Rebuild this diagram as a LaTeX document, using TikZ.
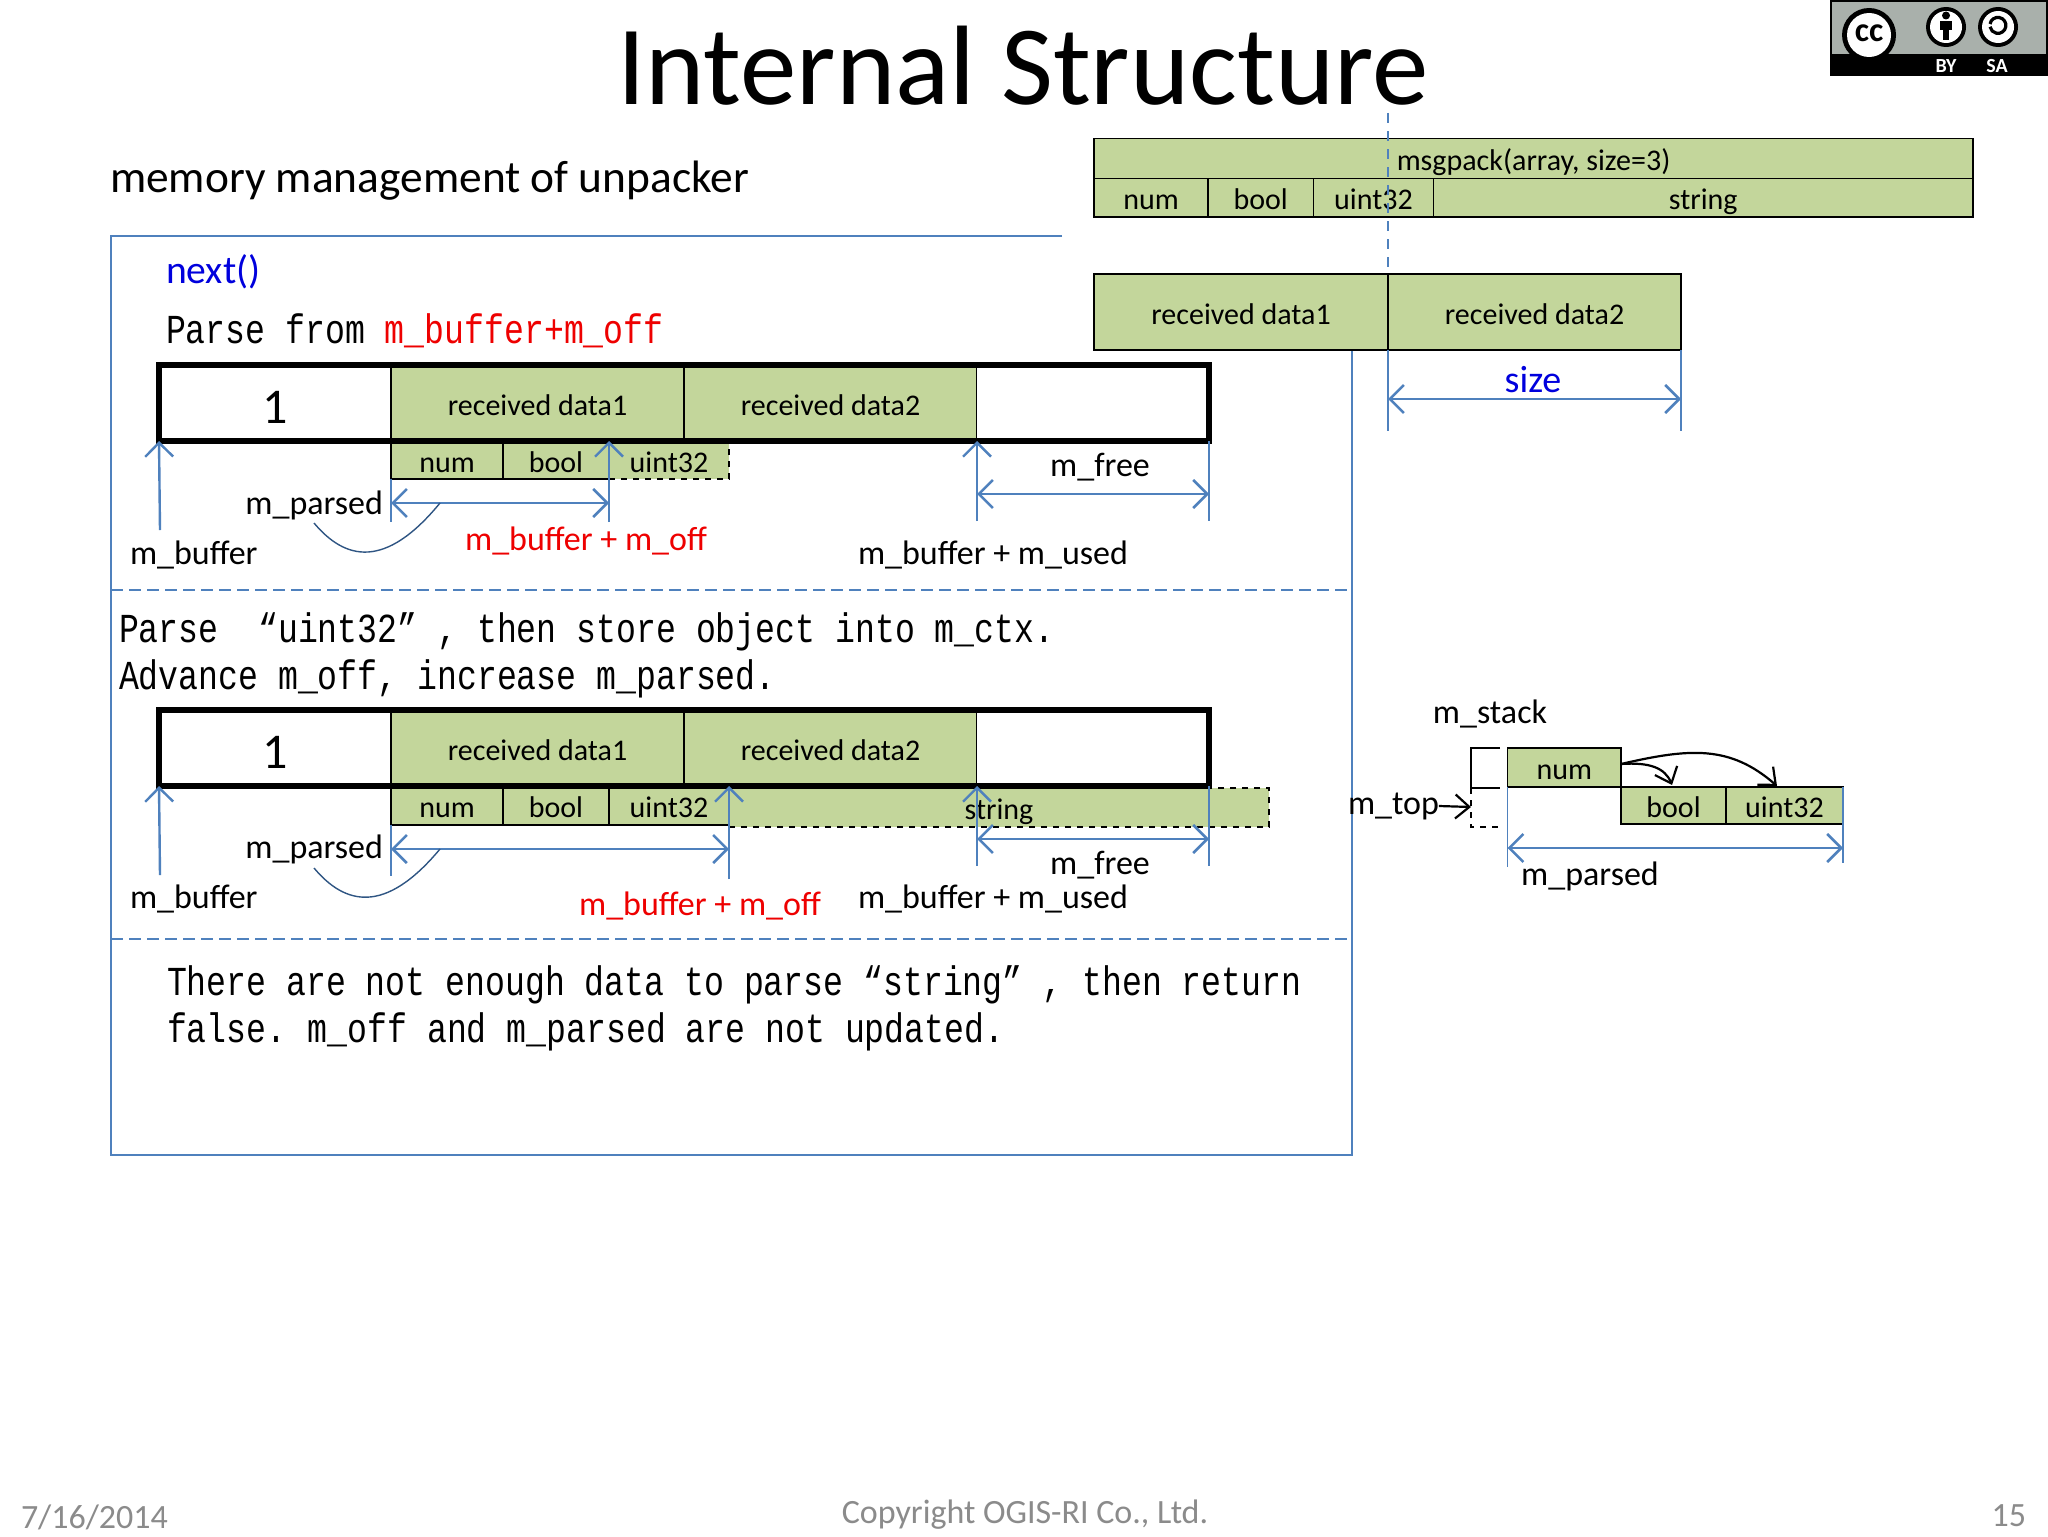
\documentclass[tikz,border=0pt]{standalone}
\usepackage{fontspec}
\usetikzlibrary{arrows.meta}
\setmainfont{Carlito}
\newfontfamily\gothic[FakeStretch=0.805]{Liberation Mono}
\definecolor{cellgreen}{HTML}{C3D69B}
\definecolor{linkblue}{HTML}{4F81BD}
\definecolor{calloutblue}{HTML}{2F5583}
\definecolor{footgrey}{HTML}{8B8B8B}
\definecolor{redtxt}{HTML}{EE0000}
\definecolor{bluetxt}{HTML}{0000DD}
\definecolor{badgegrey}{HTML}{A9B0AB}
\tikzset{
  x=0.5pt,y=-0.5pt,
  barb/.style={line width=1.2pt,draw=linkblue,arrows={-Straight Barb[length=7pt,width=14pt,line width=1.2pt]}},
  dimarrow/.style={line width=1.4pt,draw=linkblue,arrows={Straight Barb[length=7pt,width=14pt,line width=1.3pt]-Straight Barb[length=7pt,width=14pt,line width=1.3pt]}},
  tick/.style={line width=0.7pt,draw=linkblue},
  lbl/.style={inner sep=0pt,outer sep=0pt,font=\fontsize{17}{17}\selectfont},
  mono/.style={inner sep=0pt,outer sep=0pt,anchor=west,font=\gothic\fontsize{20.6}{20.6}\selectfont},
  blackarr/.style={line width=1.1pt,draw=black,arrows={-Straight Barb[length=7pt,width=12pt,line width=1.1pt]}},
  bigbox/.style={anchor=north west,draw=black,line width=2.8pt,minimum width=525pt,minimum height=38pt,inner sep=0pt,outer sep=0pt},
}
\newcommand{\cell}[7][]{\node[anchor=north west,inner sep=0pt,outer sep=0pt,fill=cellgreen,draw=black,line width=0.9pt,font=\fontsize{15}{15}\selectfont,minimum width={(#5-#3)*0.5pt},minimum height={(#6-#4)*0.5pt},#1] (#2) at (#3,#4) {\rule{0pt}{1em}\rule[-.2em]{0pt}{.2em}#7};}
\newcommand{\lab}[5][]{\node[lbl,#1] (#2) at (#3,#4) {#5};}
\begin{document}
\begin{tikzpicture}
\useasboundingbox (0,0) rectangle (2048,1536);
\fill[white] (0,0) rectangle (2048,1536);
% titles
\lab[font=\fontsize{56.5}{56.5}\selectfont]{title}{1023}{66}{Internal Structure}
\lab[anchor=west,font=\fontsize{22.7}{22.7}\selectfont]{sub}{110}{181}{memory management of unpacker}
% outer frame
\coordinate (fa) at (1062,236); \coordinate (fb) at (111,236); \coordinate (fc) at (111,1155);
\coordinate (fd) at (1352,1155); \coordinate (fe) at (1352,350);
\draw[linkblue,line width=0.6pt] (fa) -- (fb) -- (fc) -- (fd) -- (fe);
\coordinate (s1a) at (111,590); \coordinate (s1b) at (1352,590);
\coordinate (s2a) at (111,939); \coordinate (s2b) at (1352,939);
\draw[linkblue,line width=0.8pt,dash pattern=on 6pt off 3pt] (s1a) -- (s1b);
\draw[linkblue,line width=0.8pt,dash pattern=on 6pt off 3pt] (s2a) -- (s2b);
% top right
\cell{mp}{1094}{138.5}{1973}{178.5}{msgpack(array, size=3)}
\cell{tn}{1094}{178.5}{1208}{217}{num}
\cell{tb}{1208}{178.5}{1313.5}{217}{bool}
\cell{tu}{1313.5}{178.5}{1433.5}{217}{uint32}
\cell{ts}{1433.5}{178.5}{1973}{217}{string}
\cell{rd1}{1094}{274}{1388}{350}{received data1}
\cell{rd2}{1388}{274}{1681}{350}{received data2}
\coordinate (vtop) at (1388,113);
\draw[linkblue,line width=0.8pt,dash pattern=on 5pt off 4pt] (vtop) -- (rd1.north east);
\coordinate (st1) at (1388,431); \coordinate (st2) at (1681,431);
\draw[tick] (rd1.south east) -- (st1);
\draw[tick] (rd2.south east) -- (st2);
\coordinate (sa1) at (1388,399); \coordinate (sa2) at (1681,399);
\draw[dimarrow] (sa1) -- (sa2);
\lab[text=bluetxt,font=\fontsize{19}{19}\selectfont]{size}{1533}{380}{size}
% panel 1 text
\lab[anchor=west,text=bluetxt,font=\fontsize{19.8}{19.8}\selectfont]{nx}{166}{272}{next()}
\node[mono] (pf) at (166,331) {Parse from \textcolor{redtxt}{m\_buffer+m\_off}};
% panel 1 cells
\cell[draw=none,fill=white,font=\fontsize{25}{25}\selectfont]{one1}{159}{365}{391}{441}{1}
\cell{a1}{391}{365}{684}{441}{received data1}
\cell{a2}{684}{365}{977}{441}{received data2}
\cell[draw=none,fill=white]{a3}{977}{365}{1209}{441}{}
\cell{n1}{391}{441}{503}{479}{num}
\cell{b1}{503}{441}{609}{479}{bool}
\cell[draw=none]{u1}{609}{441}{729}{479}{uint32}
\draw[black,line width=0.9pt,dashed] (u1.south west) -- (u1.south east) -- (u1.north east);
\draw[black,line width=0.9pt] (a1.south west) -- (a1.north west);
\node[bigbox] (buf1) at (159,365) {};
% panel 1 arrows
\coordinate (m1) at (160,530);
\draw[barb] (m1) -- (buf1.south west);
\coordinate (t1a) at (391,522); \coordinate (t1b) at (609,522);
\draw[tick] (n1.south west) -- (t1a);
\draw[barb] (t1b) -- (b1.north east);
\coordinate (d1a) at (391,503); \coordinate (d1b) at (609,503);
\draw[dimarrow] (d1a) -- (d1b);
\coordinate (c1a) at (314,523); \coordinate (c1b) at (440,503);
\draw[calloutblue,line width=0.7pt] (c1a) .. controls (345,560) and (385,570) .. (c1b);
\coordinate (f1a) at (977,521); \coordinate (f1b) at (1209,521);
\draw[barb] (f1a) -- (a2.south east);
\draw[tick] (a3.south east) -- (f1b);
\coordinate (g1a) at (977,494); \coordinate (g1b) at (1209,494);
\draw[dimarrow] (g1a) -- (g1b);
\lab[anchor=east]{lp1}{383}{505}{m\_parsed}
\lab[anchor=west]{lb1}{130}{555}{m\_buffer}
\lab[text=redtxt]{lo1}{586}{541}{m\_buffer + m\_off}
\lab{lf1}{1100}{467}{m\_free}
\lab{lu1}{993}{555}{m\_buffer + m\_used}
% panel 2 text
\node[mono] (ps) at (119,632) {Parse\ \ “uint32” , then store object into m\_ctx.};
\node[mono] (ad) at (119,679) {Advance m\_off, increase m\_parsed.};
% panel 2 cells
\cell[draw=none,fill=white,font=\fontsize{25}{25}\selectfont]{one2}{159}{710}{391}{786}{1}
\cell{a4}{391}{710}{684}{786}{received data1}
\cell{a5}{684}{710}{977}{786}{received data2}
\cell[draw=none,fill=white]{a6}{977}{710}{1209}{786}{}
\cell{n2}{391}{786}{503}{825}{num}
\cell{b2}{503}{786}{609}{825}{bool}
\cell{u2}{609}{786}{729}{825}{uint32}
\cell[draw=none]{s2}{729}{788}{1269}{827}{string}
\draw[black,line width=0.9pt,dashed] (s2.south west) -- (s2.south east) -- (s2.north east) -- (s2.north west);
\node[bigbox] (buf2) at (159,710) {};
% panel 2 arrows
\coordinate (m2) at (160,875);
\draw[barb] (m2) -- (buf2.south west);
\coordinate (t2a) at (391,876); \coordinate (t2b) at (729,879);
\draw[tick] (n2.south west) -- (t2a);
\draw[barb] (t2b) -- (u2.north east);
\coordinate (d2a) at (391,849); \coordinate (d2b) at (729,849);
\draw[dimarrow] (d2a) -- (d2b);
\coordinate (c2a) at (314,868); \coordinate (c2b) at (440,849);
\draw[calloutblue,line width=0.7pt] (c2a) .. controls (345,905) and (385,915) .. (c2b);
\coordinate (f2a) at (977,866); \coordinate (f2b) at (1209,866);
\draw[barb] (f2a) -- (a5.south east);
\draw[tick] (a6.south east) -- (f2b);
\coordinate (g2a) at (977,839); \coordinate (g2b) at (1209,839);
\draw[dimarrow] (g2a) -- (g2b);
\lab[anchor=east]{lp2}{383}{849}{m\_parsed}
\lab[anchor=west]{lb2}{130}{899}{m\_buffer}
\lab[text=redtxt]{lo2}{700}{906}{m\_buffer + m\_off}
\lab{lf2}{1100}{865}{m\_free}
\lab{lu2}{993}{899}{m\_buffer + m\_used}
% panel 3 text
\node[mono] (th) at (167,985) {There are not enough data to parse “string” , then return};
\node[mono] (fa2) at (167,1032) {false.\kern-2.6pt{} m\_off and m\_parsed are not updated.};
% stack
\lab{lst}{1490}{714}{m\_stack}
\coordinate (ba) at (1500,748); \coordinate (bb) at (1471,748); \coordinate (bc) at (1471,788);
\coordinate (bd) at (1500,788); \coordinate (be) at (1471,827); \coordinate (bf) at (1500,827);
\draw[black,line width=0.9pt] (ba) -- (bb) -- (bc) -- (bd);
\draw[black,line width=0.9pt,dashed] (bc) -- (be) -- (bf);
\cell{sn}{1507.5}{748}{1621}{787}{num}
\cell{sb}{1621}{787}{1726}{824}{bool}
\cell{su}{1726}{787}{1843}{824}{uint32}
\lab[anchor=west]{ltop}{1348}{806}{m\_top}
\coordinate (tp) at (1471,807);
\draw[blackarr] (ltop.east) -- (tp);
\coordinate (hook) at (1621,764); \coordinate (e1) at (1672,785); \coordinate (e2) at (1777,786);
\draw[blackarr] (hook) .. controls (1650,762) and (1665,768) .. (e1);
\draw[blackarr] (hook) .. controls (1690,748) and (1730,745) .. (e2);
\coordinate (pt1) at (1507.5,867); \coordinate (pt2) at (1843,863);
\draw[tick] (sn.south west) -- (pt1);
\draw[tick] (su.north east) -- (pt2);
\coordinate (pa1) at (1507.5,848); \coordinate (pa2) at (1843,848);
\draw[dimarrow] (pa1) -- (pa2);
\lab{lpm}{1590}{876}{m\_parsed}
% footer
\lab[anchor=west,text=footgrey,font=\fontsize{17}{17}\selectfont]{fdate}{21}{1517}{7/16/2014}
\lab[text=footgrey,font=\fontsize{17}{17}\selectfont]{fcopy}{1025}{1515}{Copyright OGIS-RI Co., Ltd.}
\lab[anchor=east,text=footgrey,font=\fontsize{17}{17}\selectfont]{fnum}{2026}{1516}{15}
% cc badge
\fill[black] (1830,0) rectangle (2048,76);
\fill[badgegrey] (1832,2) rectangle (2046,54);
\fill[black] (1869,35) circle (13.5pt);
\fill[white] (1869,35) circle (11pt);
\lab[font=\bfseries\fontsize{17}{17}\selectfont]{ccg}{1869}{33}{cc}
\fill[black] (1946,27) circle (10pt);
\fill[white] (1946,27) circle (8pt);
\fill[black] (1946,15.5) circle (2pt);
\fill[black] (1940,21) rectangle (1952,30);
\fill[black] (1943,30) rectangle (1949,40);
\fill[black] (1998,27) circle (10pt);
\fill[white] (1998,27) circle (8pt);
\draw[black,line width=1.6pt] (1990,24) arc[start angle=170,end angle=-170,radius=4pt];
\lab[text=white,font=\bfseries\fontsize{10}{10}\selectfont]{by}{1946}{66}{BY}
\lab[text=white,font=\bfseries\fontsize{10}{10}\selectfont]{sa}{1997}{66}{SA}
\end{tikzpicture}
\end{document}
